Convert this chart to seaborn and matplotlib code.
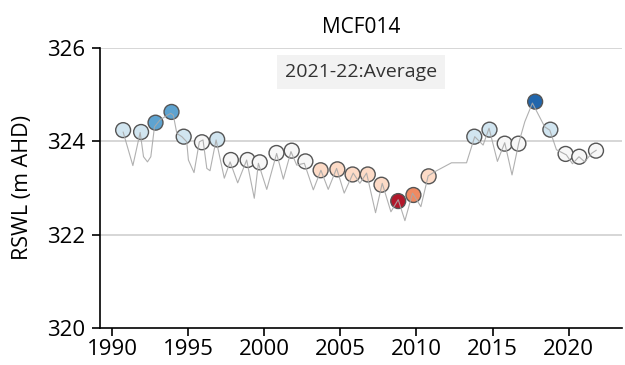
import matplotlib
matplotlib.use("Agg")
import matplotlib.pyplot as plt
import seaborn as sns
import pandas as pd

# Continuous water-level trace (years, RSWL m AHD)
line_years = [1990.72, 1991.36, 1991.84, 1992.06, 1992.32, 1992.54, 1992.78, 1993.15, 1993.63,
              1993.85, 1994.02, 1994.25, 1994.58, 1994.90, 1995.01, 1995.38, 1995.73, 1995.97,
              1996.22, 1996.43, 1996.83, 1997.37, 1997.75, 1998.25, 1998.84, 1999.34, 1999.61,
              2000.16, 2000.81, 2001.25, 2001.75, 2002.13, 2002.63, 2003.22, 2003.72, 2004.20,
              2004.75, 2005.25, 2005.84, 2006.28, 2006.72, 2007.31, 2007.75, 2008.32, 2008.80,
              2009.24, 2009.74, 2010.29, 2010.77, 2011.21, 2012.30, 2013.29, 2013.83, 2014.38,
              2014.77, 2015.32, 2015.80, 2016.28, 2016.72, 2017.12, 2017.62, 2018.43, 2018.76,
              2019.20, 2019.85, 2020.25, 2020.68, 2021.06, 2021.50, 2021.82]
line_values = [324.20, 323.48, 324.19, 323.67, 323.56, 323.67, 324.31, 324.46, 324.56,
               324.60, 324.56, 324.17, 324.10, 323.99, 323.60, 323.33, 323.99, 324.03,
               323.42, 323.37, 324.03, 323.21, 323.56, 323.11, 323.60, 322.78, 323.53,
               322.97, 323.74, 323.19, 323.78, 323.49, 323.53, 322.96, 323.38, 322.97,
               323.42, 322.89, 323.32, 323.10, 323.32, 322.47, 323.10, 322.49, 322.75,
               322.30, 322.89, 322.60, 323.26, 323.35, 323.54, 323.54, 324.10, 323.92,
               324.28, 323.57, 323.97, 323.28, 323.96, 324.42, 324.82, 324.31, 324.24,
               323.82, 323.71, 323.52, 323.67, 323.56, 323.74, 323.81]

# Annual points and their categories
point_years = [1990.72, 1991.90, 1992.85, 1993.90, 1994.70, 1995.90, 1996.90, 1997.80, 1998.90,
               1999.70, 2000.80, 2001.80, 2002.70, 2003.70, 2004.80, 2005.80, 2006.80, 2007.70,
               2008.80, 2009.80, 2010.80, 2013.80, 2014.80, 2015.80, 2016.70, 2017.80, 2018.80,
               2019.80, 2020.70, 2021.80]
point_values = [324.24, 324.20, 324.40, 324.63, 324.10, 323.98, 324.04, 323.60, 323.60,
                323.55, 323.75, 323.80, 323.57, 323.38, 323.40, 323.29, 323.29, 323.07,
                322.72, 322.85, 323.25, 324.10, 324.25, 323.95, 323.95, 324.85, 324.25,
                323.73, 323.67, 323.80]
point_class = ["Above", "Above", "Very much above", "Very much above", "Above", "Average", "Above",
               "Average", "Average", "Average", "Average", "Average", "Average", "Below", "Below",
               "Below", "Below", "Below", "Lowest", "Very much below", "Below", "Above", "Above",
               "Average", "Average", "Highest", "Above", "Average", "Average", "Average"]

class_colors = {"Lowest": "#b2182b", "Very much below": "#ef8a62", "Below": "#fddbc7",
                "Average": "#f7f7f7", "Above": "#d1e5f0", "Very much above": "#5ea3d0",
                "Highest": "#2166ac"}

y_ticks = [320, 322, 324, 326]
x_ticks = [1990, 1995, 2000, 2005, 2010, 2015, 2020]

sns.set_style("white")
plt.rcParams["font.family"] = ["Open Sans", "DejaVu Sans"]

line_df = pd.DataFrame({"year": line_years, "value": line_values})
pt_df = pd.DataFrame({"year": point_years, "value": point_values, "cls": point_class})

fig = plt.figure(figsize=(6.25, 3.65), dpi=100)
ax = fig.add_axes([0.16, 0.1014, 0.835, 0.7671])

for yv in [322, 324, 326]:
    ax.axhline(yv, color="#d3d3d3", lw=1.3, zorder=0)

sns.scatterplot(data=pt_df, x="year", y="value", hue="cls", palette=class_colors,
                s=115, edgecolor="#555555", linewidth=1.0, legend=False, zorder=3, ax=ax)
sns.lineplot(data=line_df, x="year", y="value", color="#a8a8a8", lw=0.8, zorder=4,
             sort=False, estimator=None, ax=ax, alpha=0.9)

ax.set_xlim(1989.2, 2023.5)
ax.set_ylim(320, 326)
ax.set_yticks(y_ticks)
ax.set_xticks(x_ticks)
ax.tick_params(axis="both", labelsize=16, length=6, width=1.2, color="black",
               labelcolor="black", direction="out", left=True, bottom=True)
ax.tick_params(axis="y", pad=5)
ax.tick_params(axis="x", pad=2)
for s in ["top", "right"]:
    ax.spines[s].set_visible(False)
for s in ["left", "bottom"]:
    ax.spines[s].set_color("black")
    ax.spines[s].set_linewidth(1.2)
ax.set_xlabel("")
ax.set_ylabel("RSWL (m AHD)", fontsize=15.5, labelpad=10, color="black")
ax.set_title("MCF014", fontsize=15, pad=11, color="black")

ax.text(0.5, 0.914, "2021-22:Average", transform=ax.transAxes, ha="center", va="center",
        fontsize=14, color="#333333",
        bbox=dict(boxstyle="square,pad=0.4", facecolor="#f2f2f2", edgecolor="none"))

fig.savefig("out.png", dpi=100)
